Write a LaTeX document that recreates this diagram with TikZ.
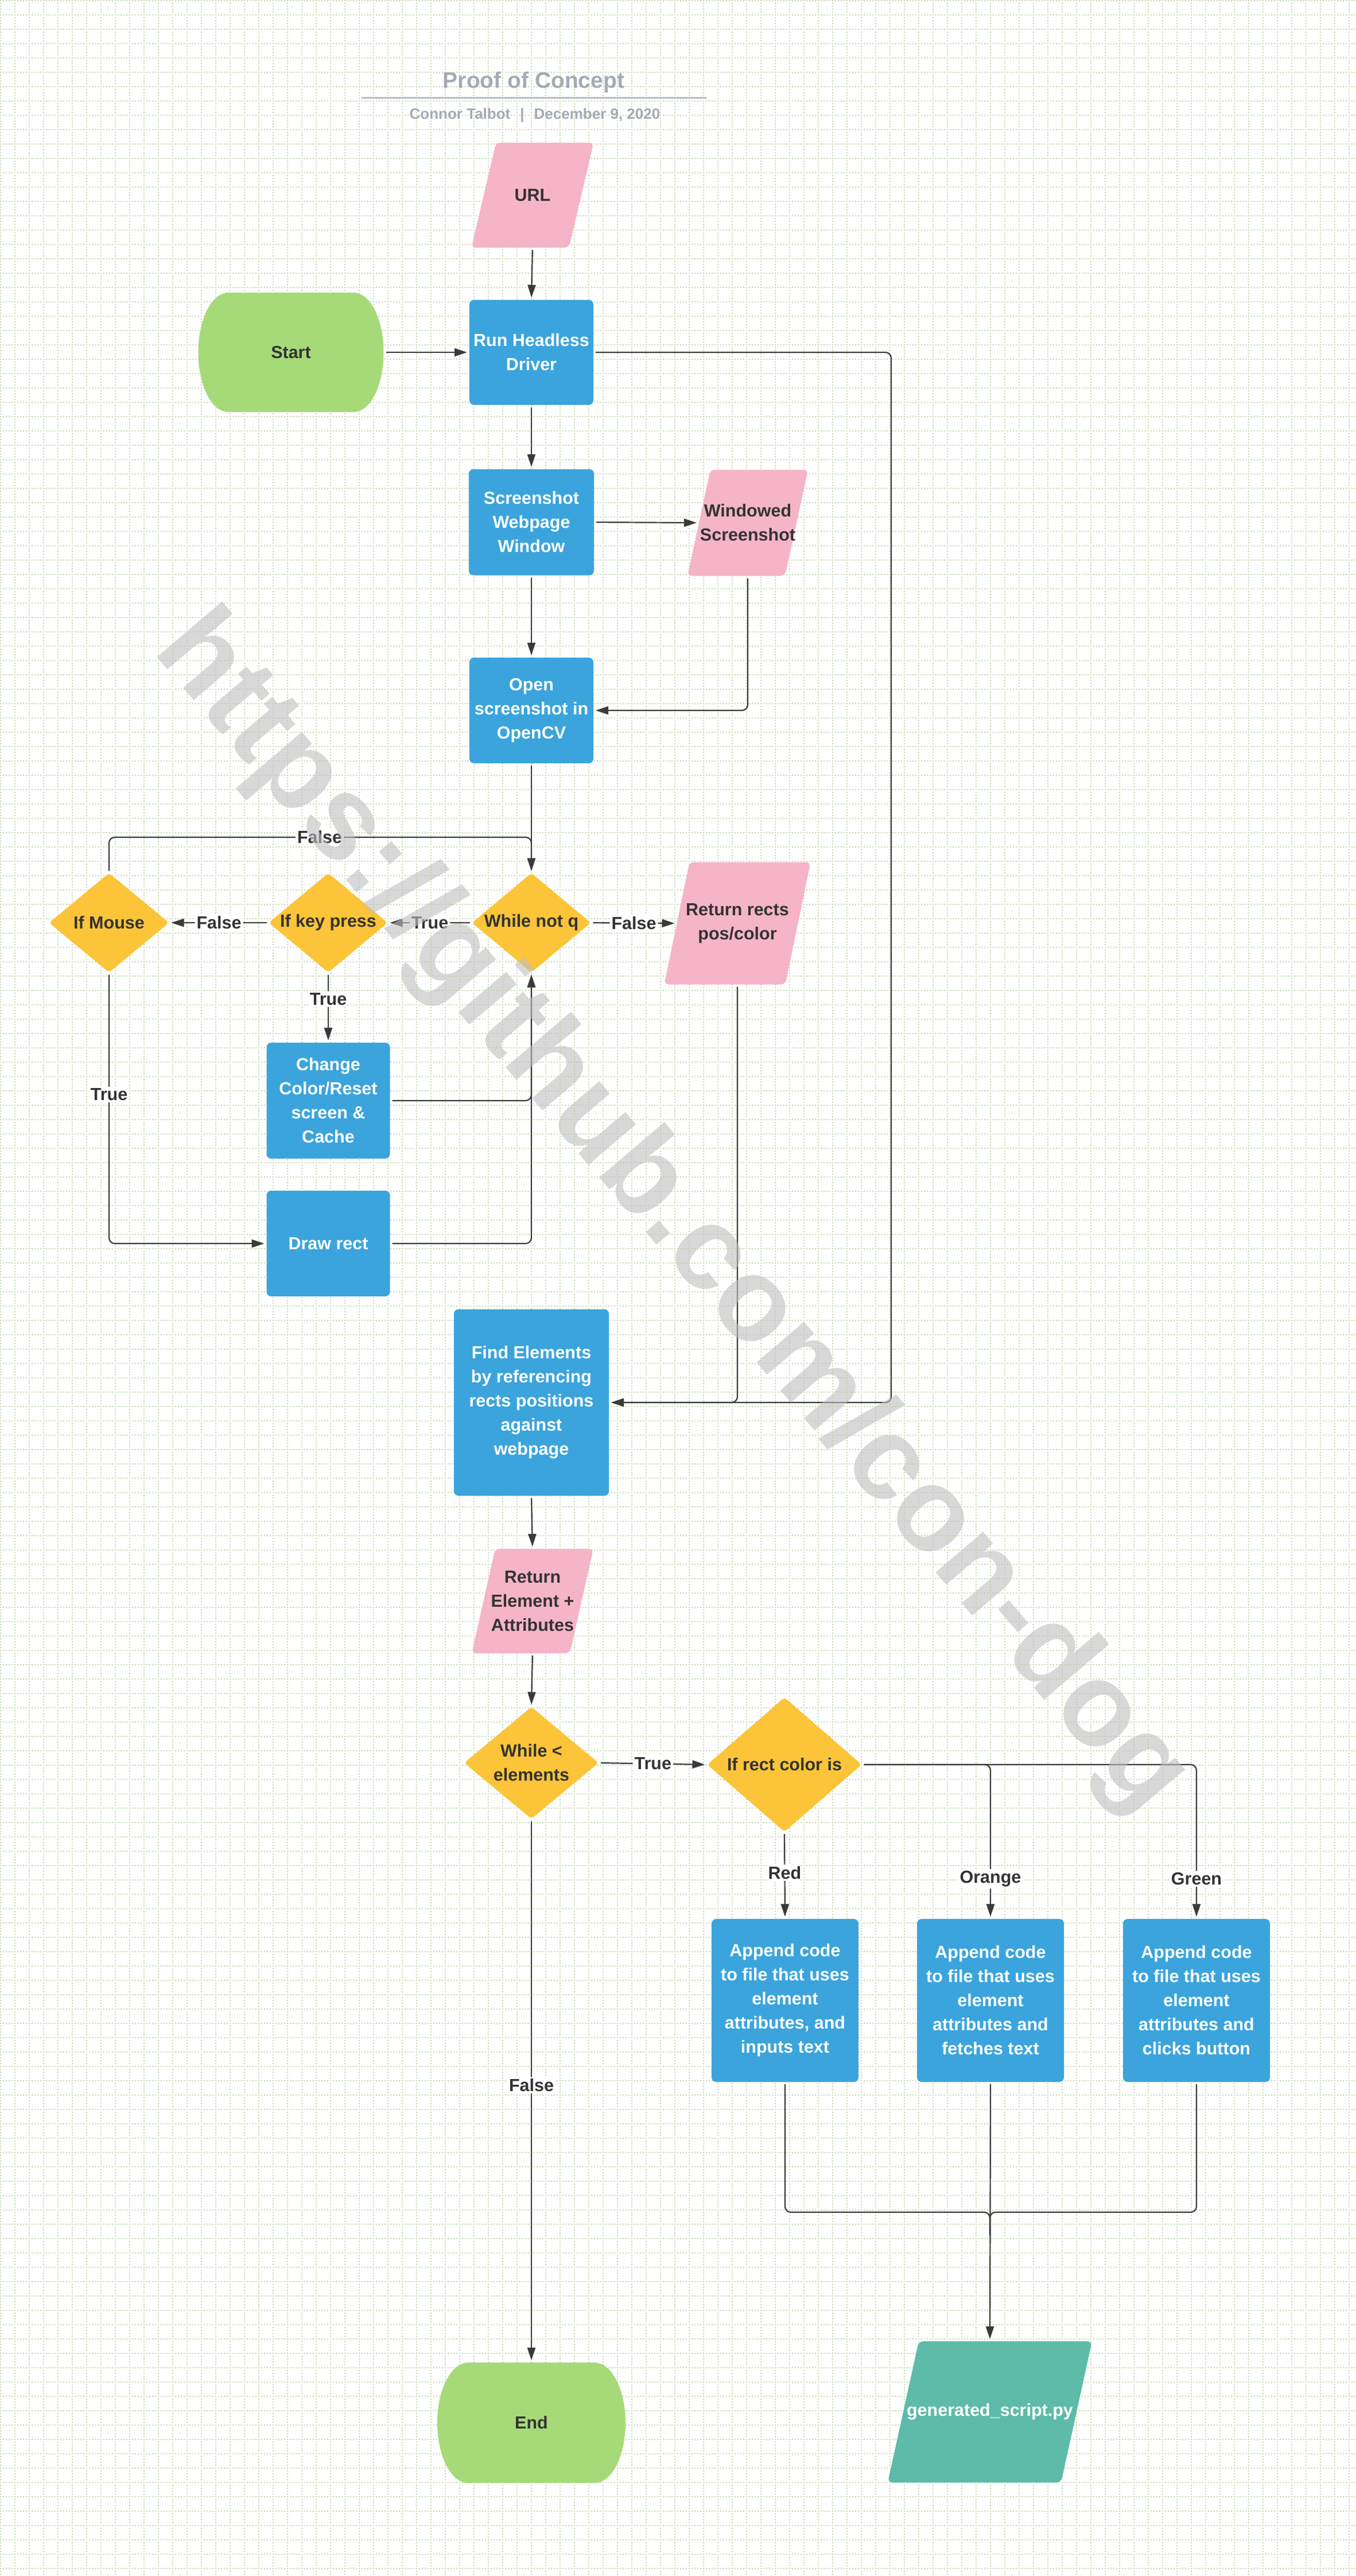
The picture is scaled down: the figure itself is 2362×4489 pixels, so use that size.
\documentclass[tikz,border=0pt]{standalone}
\usepackage{fontspec}
\setmainfont{Liberation Sans}
\usetikzlibrary{arrows.meta,shapes.geometric,calc}
\definecolor{blueC}{HTML}{3BA4DC}
\definecolor{yelC}{HTML}{FCC438}
\definecolor{pinkC}{HTML}{F5B4C8}
\definecolor{grnC}{HTML}{A6DA79}
\definecolor{tealC}{HTML}{5DBBA8}
\definecolor{darkC}{HTML}{333333}
\definecolor{lineC}{HTML}{3A3A3A}
\definecolor{gridC}{HTML}{C2D8AC}
\definecolor{titleC}{HTML}{A5AAB3}
\definecolor{ulC}{HTML}{B8BCC4}
\pgfdeclarelayer{gridl}\pgfdeclarelayer{bg}\pgfdeclarelayer{wm}
\pgfsetlayers{gridl,bg,main,wm}
\newcommand\nf{\fontsize{30.5}{42}\selectfont\bfseries}
\newcommand\mkpara[3]{%
  \fill[#3, rounded corners=8pt] ($(#1.south west)+(-#2/2,0)$) -- ($(#1.north west)+(#2/2,0)$) -- ($(#1.north east)+(#2/2,0)$) -- ($(#1.south east)+(-#2/2,0)$) -- cycle;}
\newcommand\mkterm[4]{%
  \fill[#4] ($(#1.north west)+(#2,0)$) -- ($(#1.north east)+(-#2,0)$)
    .. controls ($(#1.north east)+(-0.4477*#2,0)$) and ($(#1.east)+(0,-#3)$) .. (#1.east)
    .. controls ($(#1.east)+(0,#3)$) and ($(#1.south east)+(-0.4477*#2,0)$) .. ($(#1.south east)+(-#2,0)$)
    -- ($(#1.south west)+(#2,0)$)
    .. controls ($(#1.south west)+(0.4477*#2,0)$) and ($(#1.west)+(0,#3)$) .. (#1.west)
    .. controls ($(#1.west)+(0,-#3)$) and ($(#1.north west)+(0.4477*#2,0)$) .. cycle;}
\tikzset{
  nbase/.style={inner sep=0pt, outer sep=0pt, align=center, font=\nf},
  box/.style={nbase, rectangle, rounded corners=8pt, fill=blueC, text=white},
  dia/.style={nbase, diamond, rounded corners=6pt, fill=yelC, text=darkC},
  para/.style={nbase, rectangle, text=darkC},
  term/.style={nbase, rectangle, text=darkC},
  conn/.style={draw=lineC, line width=2.2pt, rounded corners=10pt, shorten <=4pt},
  arr/.style={conn, -{Triangle[length=22pt,width=14pt]}, shorten >=4pt},
  lbl/.style={fill=white, inner sep=3pt, text=darkC, font=\nf},
  gridline/.style={draw=gridC, line width=2pt, dash pattern=on 2pt off 3pt},
}
\begin{document}
\begin{tikzpicture}[x=1pt,y=-1pt]
\useasboundingbox (0,0) rectangle (2362,4489);
\begin{pgfonlayer}{gridl}
\fill[white] (0,0) rectangle (2362,4489);
\foreach \i in {0,...,94} \draw[gridline] ({1+25*\i},0) -- ({1+25*\i},4489);
\foreach \j in {0,...,179} \draw[gridline] (0,{1+25*\j}) -- (2362,{1+25*\j});
\end{pgfonlayer}

% title
\node[font=\fontsize{39}{39}\selectfont\bfseries, text=titleC, anchor=base] (title) at (930,153) {Proof of Concept};
\draw[ulC, line width=3pt] (630,170) -- (1231,170);
\node[font=\fontsize{26}{26}\selectfont\bfseries, text=titleC, anchor=base] (sub) at (932,207) {Connor Talbot\hspace{17pt}|\hspace{17pt}December 9, 2020};

% nodes
\node[para, minimum width=170pt, minimum height=183pt] (url) at (928,340) {URL};
\node[term, minimum width=323pt, minimum height=208pt] (start) at (507,614) {Start};
\node[box, minimum width=216pt, minimum height=183pt] (run) at (926,614) {Run Headless\\Driver};
\node[box, minimum width=218pt, minimum height=185pt] (shot) at (926,910) {Screenshot\\Webpage\\Window};
\node[para, minimum width=170pt, minimum height=185pt] (win) at (1303,911) {Windowed\\Screenshot};
\node[box, minimum width=216pt, minimum height=184pt] (open) at (926,1238) {Open\\screenshot in\\OpenCV};
\node[dia, aspect=1.2, minimum width=207pt, minimum height=173pt] (wnq) at (926,1608) {While not q};
\node[dia, aspect=1.2, minimum width=207pt, minimum height=173pt] (key) at (572,1608) {If key press};
\node[dia, aspect=1.2, minimum width=209pt, minimum height=173pt] (mouse) at (190,1608) {If Mouse};
\node[para, minimum width=211pt, minimum height=213pt] (rr) at (1285,1609) {Return rects\\pos/color};
\node[box, minimum width=215pt, minimum height=202pt] (chg) at (572,1918) {Change\\Color/Reset\\screen \&\\Cache};
\node[box, minimum width=215pt, minimum height=184pt] (drw) at (572,2167) {Draw rect};
\node[box, minimum width=270pt, minimum height=325pt] (find) at (926,2444) {Find Elements\\by referencing\\rects positions\\against\\webpage};
\node[para, minimum width=171pt, minimum height=182pt] (rel) at (928,2790) {Return\\Element +\\Attributes};
\node[dia, aspect=1.2, minimum width=234pt, minimum height=195pt] (wle) at (926,3072) {While <\\elements};
\node[dia, aspect=1.15, minimum width=269pt, minimum height=234pt] (ifr) at (1367,3075) {If rect color is};
\node[box, minimum width=256pt, minimum height=284pt] (ared) at (1368,3486) {Append code\\to file that uses\\element\\attributes, and\\inputs text};
\node[box, minimum width=256pt, minimum height=284pt] (aora) at (1726,3486) {Append code\\to file that uses\\element\\attributes and\\fetches text};
\node[box, minimum width=256pt, minimum height=284pt] (agrn) at (2085,3486) {Append code\\to file that uses\\element\\attributes and\\clicks button};
\node[para, text=white, minimum width=302pt, minimum height=246pt] (gen) at (1725,4203) {generated\_script.py};
\node[term, minimum width=328pt, minimum height=210pt] (end) at (926,4222) {End};

\begin{pgfonlayer}{bg}
\mkpara{url}{43}{pinkC}
\mkpara{win}{40}{pinkC}
\mkpara{rr}{44}{pinkC}
\mkpara{rel}{41}{pinkC}
\mkpara{gen}{54}{tealC}
\mkterm{start}{52}{57.4}{grnC}
\mkterm{end}{54}{58}{grnC}
\end{pgfonlayer}

% connectors
\draw[arr] (url.south) -- (run.north);
\draw[arr] (start.east) -- (run.west);
\draw[arr] (run.south) -- (shot.north);
\draw[arr] (shot.east) -- (win.west);
\draw[arr] (shot.south) -- (open.north);
\draw[arr] (win.south) |- (open.east);
\draw[arr] (open.south) -- (wnq.north);
\coordinate (rx) at (1553,614);
\draw[arr] (run.east) -- (rx) |- (find.east);
\draw[arr] (rr.south) |- (find.east);
\draw[arr] (wnq.west) -- node[lbl]{True} (key.east);
\draw[arr] (key.west) -- node[lbl]{False} (mouse.east);
\draw[arr] (wnq.east) -- node[lbl]{False} (rr.west);
\coordinate (ftop) at (557,1459);
\draw[arr] (mouse.north) |- (ftop) node[lbl]{False} -| (wnq.north);
\draw[arr] (key.south) -- node[lbl,pos=0.38]{True} (chg.north);
\draw[arr] (chg.east) -| (wnq.south);
\draw[arr] (drw.east) -| (wnq.south);
\draw[arr] (mouse.south) |- node[lbl,pos=0.225]{True} (drw.west);
\draw[arr] (find.south) -- (rel.north);
\draw[arr] (rel.south) -- (wle.north);
\draw[arr] (wle.east) -- node[lbl]{True} (ifr.west);
\draw[arr] (ifr.south) -- node[lbl,pos=0.47]{Red} (ared.north);
\draw[arr] (ifr.east) -| node[lbl,pos=0.87]{Orange} (aora.north);
\draw[arr] (ifr.east) -| node[lbl,pos=0.87]{Green} (agrn.north);
\draw[arr] (wle.south) -- node[lbl,pos=0.49]{False} (end.north);
\coordinate (mg) at (1725,3855);
\draw[conn] (ared.south) |- (mg) -- ++(0,40);
\draw[conn] (agrn.south) |- (mg) -- ++(0,40);
\draw[arr] (aora.south) -- (gen.north);

\begin{pgfonlayer}{wm}
\node[font=\fontsize{206}{206}\selectfont\bfseries, text=black!25, text opacity=0.6, rotate=-49.6, anchor=base, inner sep=0pt] (wmk) at (1128,2150) {https://github.com/con-dog};
\end{pgfonlayer}
\end{tikzpicture}
\end{document}
